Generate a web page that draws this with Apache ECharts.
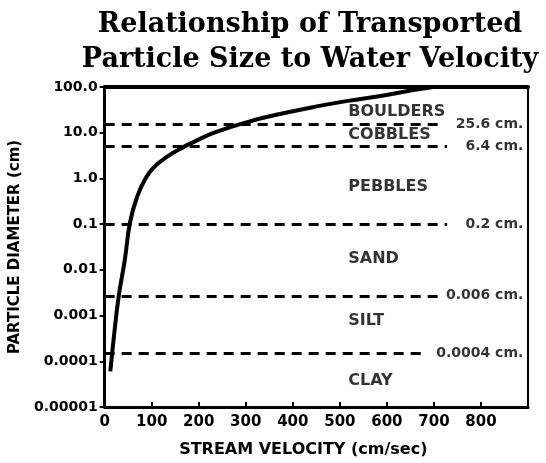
<!DOCTYPE html>
<html>
<head>
<meta charset="utf-8">
<script src="https://cdn.jsdelivr.net/npm/echarts@6/dist/echarts.min.js"></script>
<style>html,body{margin:0;padding:0;background:#fff}#c{width:546px;height:463px}</style>
</head>
<body>
<div id="c"></div>
<script>
// ---- data ----
var titleLines = ['Relationship of Transported', 'Particle Size to Water Velocity'];
var xTickLabels = ['0','100','200','300','400','500','600','700','800'];
var yTickLabels = ['0.00001','0.0001','0.001','0.01','0.1','1.0','10.0','100.0'];
var velocity = [12, 19, 30, 43, 54, 70, 87, 104, 133, 163, 191, 233, 305, 375, 445, 517, 587, 656, 699];
var diameter = [0.00006, 0.0003, 0.0027, 0.017, 0.11, 0.42, 1.0, 1.73, 3.0, 4.6, 6.4, 10.0, 17.3, 25.9, 36.7, 49.7, 63.7, 86, 100];
var boundaryValues = [15, 5.0, 0.1, 0.0027, 0.00015];
var boundaryLabels = ['25.6 cm.', '6.4 cm.', '0.2 cm.', '0.006 cm.', '0.0004 cm.'];
var boundaryEnds = [720, 728, 728, 710, 685];
var zoneNames = ['BOULDERS', 'COBBLES', 'PEBBLES', 'SAND', 'SILT', 'CLAY'];
var zoneValues = [28.6, 9.0, 0.67, 0.017, 0.00078, 0.000037];
var zoneLabelX = 518;
var boundaryLabelX = 890;

// ---- chart ----
var chart = echarts.init(document.getElementById('c'), null, {renderer: 'canvas'});
var sans = 'DejaVu Sans';
var curve = velocity.map(function (v, i) { return [v, diameter[i]]; });
var markData = boundaryValues.map(function (v, i) {
  return [{coord: [0, v]}, {coord: [boundaryEnds[i], v]}];
});
var bLabelData = boundaryValues.map(function (v, i) { return {value: [boundaryLabelX, v], name: boundaryLabels[i]}; });
var zoneData = zoneValues.map(function (v, i) { return {value: [zoneLabelX, v], name: zoneNames[i]}; });

chart.setOption({
  animation: false,
  backgroundColor: '#fff',
  graphic: titleLines.map(function (t, i) {
    return {
      type: 'text', x: 310, y: 25 + i * 35,
      style: {text: t, fill: '#000', font: 'bold 27px "DejaVu Serif"', textAlign: 'center', textVerticalAlign: 'middle'}
    };
  }),
  grid: {left: 103, right: 18, top: 87, bottom: 52, show: true, borderColor: '#000', borderWidth: 2},
  xAxis: [{
    type: 'value', min: 0, max: 900, interval: 100,
    name: 'STREAM VELOCITY (cm/sec)', nameLocation: 'middle', nameGap: 35,
    nameTextStyle: {fontFamily: sans, fontWeight: 'bold', fontSize: 16, color: '#000', padding: [0, 26, 0, 0]},
    axisLine: {show: true, lineStyle: {color: '#000', width: 3}},
    axisTick: {show: true, inside: true, length: 5, lineStyle: {color: '#000', width: 2}},
    axisLabel: {
      margin: 8, fontFamily: sans, fontWeight: 'bold', fontSize: 15, color: '#000',
      formatter: function (v) { var i = Math.round(v / 100); return xTickLabels[i] !== undefined ? xTickLabels[i] : ''; }
    },
    splitLine: {show: false}
  }, {
    type: 'value', position: 'top', min: 0, max: 900,
    axisLine: {show: true, lineStyle: {color: '#000', width: 4}},
    axisTick: {show: false}, axisLabel: {show: false}, splitLine: {show: false}
  }],
  yAxis: {
    type: 'log', logBase: 10, min: 0.00001, max: 100,
    name: 'PARTICLE DIAMETER (cm)', nameLocation: 'middle', nameGap: 78, nameRotate: 90,
    nameTextStyle: {fontFamily: sans, fontWeight: 'bold', fontSize: 15, color: '#000'},
    axisLine: {show: true, lineStyle: {color: '#000', width: 3}},
    axisTick: {show: true, inside: false, length: 5, lineStyle: {color: '#000', width: 2}},
    axisLabel: {
      margin: 7, fontFamily: sans, fontWeight: 'bold', fontSize: 14, color: '#000',
      formatter: function (v) { var i = Math.round(Math.log10(v)) + 5; return yTickLabels[i] || ''; }
    },
    splitLine: {show: false}
  },
  series: [{
    type: 'line', data: curve, smooth: 0.5, showSymbol: false,
    lineStyle: {color: '#000', width: 4},
    markLine: {
      silent: true, symbol: ['none', 'none'],
      lineStyle: {color: '#000', width: 3, type: [10, 7]},
      label: {show: false},
      data: markData
    }
  }, {
    type: 'scatter', data: bLabelData, symbolSize: 0, silent: true,
    label: {show: true, position: 'left', distance: 0, formatter: '{b}', fontFamily: sans, fontWeight: 'bold', fontSize: 14, color: '#000'}
  }, {
    type: 'scatter', data: zoneData, symbolSize: 0, silent: true,
    label: {show: true, position: 'right', distance: 0, formatter: '{b}', fontFamily: sans, fontWeight: 'bold', fontSize: 16, color: '#000'}
  }]
});
</script>
</body>
</html>
